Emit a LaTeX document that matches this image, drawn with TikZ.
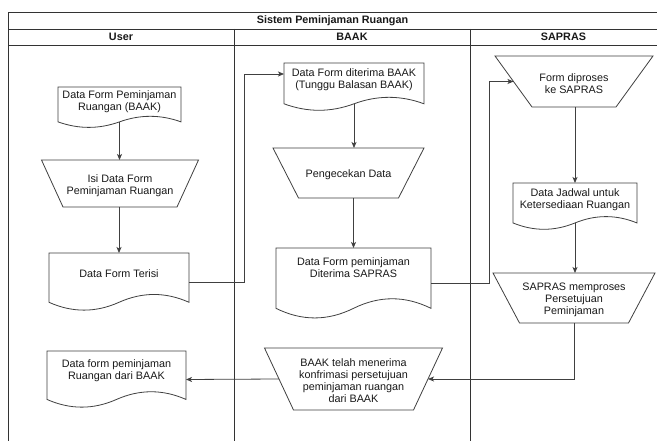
\documentclass[tikz,border=0pt]{standalone}
\usepackage{fontspec}
\setmainfont{Liberation Sans}
\usetikzlibrary{arrows.meta}

\tikzset{
  frameline/.style={draw=black!80, line width=0.8pt},
  shapeline/.style={draw=black!75, line width=0.8pt, fill=white},
  conn/.style={draw=black!75, line width=0.8pt,
    -{Stealth[length=6pt, width=5pt, inset=1.5pt]}},
  boxnode/.style={inner sep=0pt, outer sep=0pt, draw=none},
  txt/.style={align=center, font=\fontsize{10.8}{12}\selectfont,
    text=black!90, inner sep=0pt},
  headtxt/.style={font=\fontsize{10.8}{12}\selectfont\bfseries,
    text=black!90, inner sep=0pt},
}

% Document symbol: rectangle with a wavy lower edge.
% [text fraction] name, left, top, width, height, text
\newcommand\docnode[7][0.35]{%
  \node[boxnode, minimum width=#5, minimum height=#6] (#2)
    at ({#3+#5/2},{#4+#6/2}) {};
  \draw[shapeline, shift={(#2.north west)}]
    (0,0) -- (#5,0) -- (#5,{0.85*#6})
    .. controls ({0.8333*#5},{0.67*#6}) and ({0.6667*#5},{0.67*#6}) .. ({0.5*#5},{0.85*#6})
    .. controls ({0.3333*#5},{1.03*#6}) and ({0.1667*#5},{1.03*#6}) .. (0,{0.85*#6})
    -- cycle;
  \path[shift={(#2.north west)}]
    ({0.5*#5},{0.85*#6}) coordinate (#2-b)
    ({0.5*#5},{#1*#6}) node[txt] (#2-t) {#7};
}

% Manual operation symbol: trapezium, wide side on top.
% name, centre x, top, top width, bottom width, height, text
\newcommand\trapnode[7]{%
  \node[boxnode, minimum width={(#4+#5)/2}, minimum height=#6] (#1)
    at (#2,{#3+#6/2}) {};
  \draw[shapeline, shift={(#1.center)}]
    ({-#4/2},{-#6/2}) -- ({#4/2},{-#6/2}) -- ({#5/2},{#6/2}) -- ({-#5/2},{#6/2}) -- cycle;
  \node[txt, yshift=-2pt] (#1-t) at (#1.center) {#7};
}

\begin{document}
\begin{tikzpicture}[x=1pt, y=-1pt]
  \useasboundingbox (0,0) rectangle (657,441);
  \fill[white] (0,0) rectangle (657,441);

  % swimlane frame
  \draw[frameline] (8,441) -- (8,12) -- (657,12);
  \draw[frameline] (8,29) -- (657,29);
  \draw[frameline] (8,45) -- (657,45);
  \draw[frameline] (234,29) -- (234,441);
  \draw[frameline] (470,29) -- (470,441);

  \node[headtxt] (title) at (332.5,20.5) {Sistem Peminjaman Ruangan};
  \node[headtxt] (laneuser) at (121,37) {User};
  \node[headtxt] (lanebaak) at (352,37) {BAAK};
  \node[headtxt] (lanesapras) at (563.5,37) {SAPRAS};

  % User lane
  \docnode{d1}{58}{87}{123}{41}{Data Form Peminjaman\\Ruangan (BAAK)}
  \trapnode{t1}{120}{160}{157}{114}{47}{Isi Data Form\\Peminjaman Ruangan}
  \docnode{d2}{49}{253}{140}{58}{Data Form Terisi}
  \docnode{d6}{47}{351}{139}{57}{Data form peminjaman\\Ruangan dari BAAK}

  % BAAK lane
  \docnode{d3}{284}{63}{140}{48}{Data Form diterima BAAK\\(Tunggu Balasan BAAK)}
  \trapnode{t2}{348.5}{148}{151}{100}{50}{Pengecekan Data}
  \docnode[0.28]{d4}{276}{248}{155}{71}{Data Form peminjaman\\Diterima SAPRAS}
  \trapnode{t5}{353.5}{348}{178}{120}{62}{BAAK telah menerima\\konfrimasi persetujuan\\peminjaman ruangan\\dari BAAK}

  % SAPRAS lane
  \trapnode{t3}{574}{56}{158}{84}{51}{Form diproses\\ke SAPRAS}
  \docnode{d5}{513}{183}{124}{47}{Data Jadwal untuk\\Ketersediaan Ruangan}
  \trapnode{t4}{574}{273}{162}{109}{50}{SAPRAS memproses\\Persetujuan\\Peminjaman}

  % routing points
  \coordinate (d3in) at ([yshift=-11pt]d3.north west);
  \coordinate (j1) at (244,0);
  \coordinate (j2) at (489,0);

  % connectors
  \draw[conn] (d1-b) -- (d1-b |- t1.north);
  \draw[conn] (d2.north |- t1.south) -- (d2.north);
  \draw[conn] (d2.east) -| (j1 |- d3in) -- (d3in);
  \draw[conn] (d3-b) -- (d3-b |- t2.north);
  \draw[conn] (d4.north |- t2.south) -- (d4.north);
  \draw[conn] (d4.east) -| (j2 |- t3.west) -- (t3.west);
  \draw[conn] (d5.north |- t3.south) -- (d5.north);
  \draw[conn] (d5-b) -- (d5-b |- t4.north);
  \draw[conn] (t4.south) |- (t5.east);
  \draw[conn] (t5.west) -- (d6.east);
\end{tikzpicture}
\end{document}
